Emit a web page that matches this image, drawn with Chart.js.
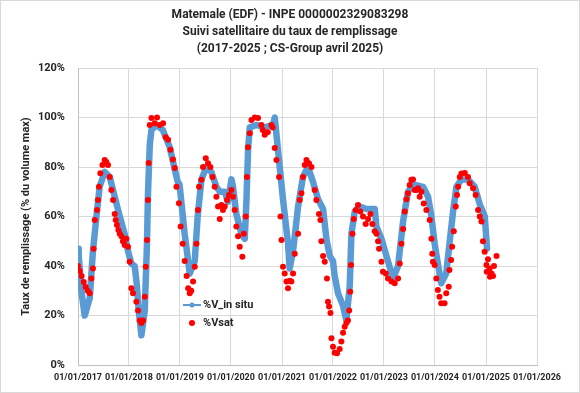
<!DOCTYPE html>
<html>
<head>
<meta charset="utf-8">
<script src="https://cdn.jsdelivr.net/npm/chart.js@4.4.1/dist/chart.umd.min.js"></script>
<style>
  html, body { margin: 0; padding: 0; background: #fff; }
  #graf { display: block; }
</style>
</head>
<body>
<canvas id="graf" width="580" height="393"></canvas>
<script>
// ------------------------------------ DATI ------------------------------------
const titolo = [
  'Matemale (EDF) - INPE 0000002329083298',
  'Suivi satellitaire du taux de remplissage',
  '(2017-2025 ; CS-Group avril 2025)'
];
const titoloAsseY = 'Taux de remplissage (% du volume max)';
const anniTick = [2017, 2018, 2019, 2020, 2021, 2022, 2023, 2024, 2025, 2026];
const percTick = [0, 20, 40, 60, 80, 100, 120];

// %V_in situ
const dateInSitu = [
  '2017-01-01','2017-01-06','2017-01-15','2017-01-25','2017-02-18','2017-03-26','2017-04-18','2017-05-13',
  '2017-06-05','2017-07-11','2017-08-16','2017-09-21','2017-10-27','2017-12-01','2017-12-25','2018-01-18',
  '2018-02-11','2018-02-25','2018-03-12','2018-03-31','2018-04-24','2018-05-10','2018-05-17','2018-05-30',
  '2018-06-11','2018-07-16','2018-08-31','2018-10-20','2018-11-25','2018-12-16','2018-12-29','2019-02-04',
  '2019-03-12','2019-04-17','2019-05-08','2019-06-04','2019-07-10','2019-08-14','2019-09-19','2019-10-13',
  '2019-11-18','2019-12-11','2020-01-05','2020-01-16','2020-02-09','2020-03-16','2020-04-09','2020-04-21',
  '2020-05-03','2020-05-15','2020-07-02','2020-08-30','2020-10-29','2020-11-10','2020-12-03','2021-01-08',
  '2021-02-13','2021-02-25','2021-03-21','2021-04-26','2021-05-31','2021-07-06','2021-08-11','2021-09-16',
  '2021-10-22','2021-11-15','2021-12-09','2022-01-01','2022-01-13','2022-02-06','2022-03-14','2022-04-07',
  '2022-05-01','2022-05-13','2022-06-06','2022-07-12','2022-08-29','2022-10-27','2022-11-08','2022-12-14',
  '2023-01-19','2023-03-07','2023-04-12','2023-05-18','2023-06-22','2023-07-28','2023-10-08','2023-11-13',
  '2023-12-07','2023-12-30','2024-01-22','2024-02-15','2024-03-22','2024-04-14','2024-05-10','2024-06-03',
  '2024-07-09','2024-08-25','2024-10-12','2024-11-17','2024-12-23','2025-01-08'
];
const valInSitu = [
  47, 44, 38, 30, 20, 27, 46, 60,
  72, 78, 76, 68, 60, 53, 46, 41,
  40, 33, 22, 12, 22, 49, 69, 89,
  95, 97, 95, 88, 79, 74, 73, 53,
  37, 42, 60, 75, 80, 78, 72, 70,
  70, 66, 75, 72, 61, 53, 51, 66,
  87, 96, 97, 96, 97, 100, 87, 67,
  49, 39, 46, 64, 76, 80, 74, 67,
  63, 51, 44, 42, 36, 29, 24, 18,
  32, 53, 62, 64, 63, 63, 56, 51,
  44, 35, 40, 58, 70, 73, 72, 68,
  60, 49, 41, 33, 37, 49, 62, 72,
  75, 75, 72, 65, 60, 47
];

// %Vsat
const dateSat = [
  '2017-01-01','2017-01-13','2017-01-27','2017-02-11','2017-02-25','2017-03-11','2017-03-26','2017-04-07',
  '2017-04-18','2017-04-23','2017-05-01','2017-05-17','2017-05-24','2017-05-31','2017-06-10','2017-06-25',
  '2017-07-11','2017-07-23','2017-08-04','2017-08-16','2017-08-28','2017-09-09','2017-09-21','2017-09-28',
  '2017-10-07','2017-10-17','2017-10-27','2017-11-08','2017-11-19','2017-12-01','2017-12-14','2017-12-25',
  '2018-01-06','2018-01-18','2018-01-30','2018-02-23','2018-03-07','2018-03-19','2018-03-31','2018-04-12',
  '2018-04-24','2018-05-01','2018-05-10','2018-05-17','2018-05-22','2018-05-30','2018-06-11','2018-07-04',
  '2018-07-21','2018-08-09','2018-09-02','2018-09-21','2018-10-08','2018-10-25','2018-11-12','2018-11-25',
  '2018-12-07','2018-12-25','2019-01-06','2019-01-21','2019-02-04','2019-02-18','2019-03-01','2019-03-12',
  '2019-03-23','2019-04-05','2019-04-17','2019-04-29','2019-05-10','2019-05-18','2019-06-04','2019-06-15',
  '2019-07-05','2019-07-21','2019-08-07','2019-08-22','2019-09-07','2019-09-19','2019-10-01','2019-10-13',
  '2019-10-25','2019-11-05','2019-11-18','2019-12-04','2019-12-18','2020-01-05','2020-01-16','2020-01-28',
  '2020-02-09','2020-02-21','2020-03-04','2020-03-23','2020-04-02','2020-04-16','2020-04-25','2020-05-02',
  '2020-05-15','2020-05-27','2020-06-20','2020-07-13','2020-08-06','2020-08-16','2020-08-30','2020-09-21',
  '2020-10-17','2020-10-26','2020-11-10','2020-11-22','2020-12-11','2020-12-21','2020-12-28','2021-01-08',
  '2021-01-20','2021-02-02','2021-02-13','2021-02-25','2021-03-09','2021-03-21','2021-04-02','2021-04-26',
  '2021-05-08','2021-05-20','2021-05-31','2021-06-13','2021-06-25','2021-07-13','2021-07-31','2021-08-23',
  '2021-09-04','2021-09-23','2021-10-03','2021-10-10','2021-10-22','2021-11-03','2021-11-19','2021-11-26',
  '2021-12-04','2021-12-14','2021-12-21','2022-01-01','2022-01-13','2022-01-30','2022-02-18','2022-03-02',
  '2022-03-14','2022-03-26','2022-04-07','2022-04-18','2022-04-27','2022-05-04','2022-05-10','2022-05-20',
  '2022-05-30','2022-06-13','2022-06-29','2022-07-16','2022-08-04','2022-08-23','2022-09-09','2022-09-26',
  '2022-10-10','2022-10-27','2022-11-08','2022-11-20','2022-11-27','2022-12-14','2022-12-25','2023-01-14',
  '2023-01-30','2023-02-24','2023-03-19','2023-04-12','2023-04-24','2023-05-06','2023-05-18','2023-05-30',
  '2023-06-11','2023-06-22','2023-07-04','2023-07-16','2023-07-28','2023-08-09','2023-08-21','2023-09-02',
  '2023-09-14','2023-09-26','2023-10-13','2023-11-01','2023-11-25','2023-12-07','2023-12-13','2023-12-18',
  '2023-12-30','2024-01-11','2024-01-22','2024-02-03','2024-02-15','2024-03-10','2024-03-22','2024-04-09',
  '2024-04-14','2024-04-26','2024-05-03','2024-05-15','2024-05-29','2024-06-07','2024-06-15','2024-06-27',
  '2024-07-09','2024-08-02','2024-08-25','2024-09-06','2024-09-30','2024-10-19','2024-11-05','2024-11-17',
  '2024-11-29','2024-12-10','2024-12-22','2025-01-04','2025-01-06','2025-01-15','2025-01-27','2025-01-29',
  '2025-02-09','2025-02-20','2025-02-27','2025-03-17'
];
const valSat = [
  40, 38, 36, 33.5, 31.5, 30, 29, 35,
  39, 47, 58.6, 62.6, 66.7, 72, 77.5, 80.8,
  82.8, 82, 80.8, 76, 70.7, 66.7, 61, 58.6,
  56.6, 54.5, 53, 52, 50, 48.5, 51, 47.8,
  41.7, 31, 29, 25.6, 22, 18, 17, 18,
  27.6, 39.7, 50.5, 66.7, 81.6, 97, 99.8, 97.7,
  100, 97, 97.7, 92, 91, 87, 83, 79.6,
  72, 65.4, 56, 49, 42, 36, 31, 29,
  30, 33.7, 39.7, 49, 62.6, 72, 74.8, 80,
  83.5, 81.5, 80, 76, 72, 68, 64, 59,
  64.6, 62.6, 64, 66.7, 68.7, 70.7, 68, 62.6,
  56, 52, 47.8, 43.7, 53, 60, 76, 88,
  93.6, 99, 100, 99.8, 97, 95, 93, 94,
  97, 96, 87.7, 82.8, 76, 60, 50.5, 39.7,
  37, 33.7, 31, 34, 33.7, 37, 45, 53,
  66.7, 69.4, 76, 80.8, 82.8, 81.5, 80, 70.7,
  66.7, 61, 58.6, 50, 44, 41.7, 35, 25.6,
  23.6, 21, 10.8, 7.4, 5, 4.7, 6.5, 9.5,
  13, 15.5, 17, 18, 22, 29.6, 40.4, 53,
  59, 62.6, 64.6, 62, 60, 57, 59, 61,
  57, 54, 53, 50, 47, 41.7, 37.7, 37,
  35, 33.7, 33, 35, 41, 49, 55, 62,
  67, 69.4, 72.7, 74.8, 75, 70.7, 70.7, 71.4,
  68, 70, 65.3, 62.6, 58.6, 51, 45, 41.7,
  40.4, 35, 30.3, 27.6, 25, 25, 29, 31.6,
  38.4, 42.4, 47.8, 54, 64, 68.7, 72, 76,
  77.4, 77.6, 76, 73.4, 71.4, 68.7, 62.6, 60,
  58, 50, 45.8, 40.4, 37.7, 42.7, 39, 35.7,
  37, 36, 40, 44
];
// ------------------------------------ DATI ------------------------------------

function giorno(s) {
  const p = s.split('-');
  return Date.UTC(+p[0], +p[1] - 1, +p[2]) / 864e5;
}
function etichettaData(v) {
  const d = new Date(Math.round(v) * 864e5);
  const gg = String(d.getUTCDate()).padStart(2, '0');
  const mm = String(d.getUTCMonth() + 1).padStart(2, '0');
  return gg + '/' + mm + '/' + d.getUTCFullYear();
}

const puntiInSitu = dateInSitu.map((d, i) => ({ x: giorno(d), y: valInSitu[i] }));
const puntiSat = dateSat.map((d, i) => ({ x: giorno(d), y: valSat[i] }));
const tickX = anniTick.map(a => giorno(a + '-01-01'));

// cornice + legenda dentro il grafico
const cornice = {
  id: 'cornice',
  beforeDraw(chart) {
    const ctx = chart.ctx;
    ctx.save();
    ctx.fillStyle = '#ffffff';
    ctx.fillRect(0, 0, chart.width, chart.height);
    ctx.strokeStyle = '#d9d9d9';
    ctx.lineWidth = 1;
    ctx.strokeRect(0.5, 0.5, chart.width - 1, chart.height - 1);
    ctx.restore();
  },
  afterDraw(chart) {
    const ctx = chart.ctx;
    const ds = chart.data.datasets;
    ctx.save();
    ctx.font = 'bold 11px Roboto';
    ctx.textBaseline = 'middle';
    // %V_in situ
    let y = 305;
    ctx.strokeStyle = ds[0].borderColor;
    ctx.lineWidth = 2;
    ctx.beginPath(); ctx.moveTo(183, y); ctx.lineTo(201, y); ctx.stroke();
    ctx.fillStyle = ds[0].borderColor;
    ctx.beginPath(); ctx.arc(192, y, 2.5, 0, Math.PI * 2); ctx.fill();
    ctx.fillStyle = '#262626';
    ctx.fillText(ds[0].label, 203, y);
    // %Vsat
    y = 323;
    ctx.fillStyle = ds[1].backgroundColor;
    ctx.beginPath(); ctx.arc(192, y, 3, 0, Math.PI * 2); ctx.fill();
    ctx.fillStyle = '#262626';
    ctx.fillText(ds[1].label, 203, y);
    ctx.restore();
  }
};

Chart.defaults.font.family = 'Roboto';
Chart.defaults.font.weight = 'bold';
Chart.defaults.color = '#262626';

new Chart(document.getElementById('graf').getContext('2d'), {
  type: 'line',
  data: {
    datasets: [{
      label: '%V_in situ',
      data: puntiInSitu,
      borderColor: '#5b9bd5',
      backgroundColor: '#5b9bd5',
      borderWidth: 6.5,
      borderJoinStyle: 'round',
      borderCapStyle: 'round',
      pointRadius: 0,
      tension: 0,
      order: 2
    }, {
      label: '%Vsat',
      data: puntiSat,
      showLine: false,
      borderColor: '#ff0000',
      backgroundColor: '#ff0000',
      pointRadius: 3,
      pointBorderWidth: 0,
      order: 1
    }]
  },
  options: {
    responsive: false,
    animation: false,
    layout: { padding: 0 },
    plugins: {
      legend: { display: false },
      tooltip: { enabled: false },
      title: {
        display: true,
        text: titolo,
        font: { size: 12, weight: 'bold', lineHeight: 17 / 12 },
        color: '#262626',
        padding: { top: 6.5, bottom: 10.5 }
      }
    },
    scales: {
      x: {
        type: 'linear',
        min: tickX[0],
        max: tickX[tickX.length - 1],
        afterBuildTicks: (scala) => { scala.ticks = tickX.map(v => ({ value: v })); },
        afterFit: (scala) => { scala.height = 28; },
        ticks: {
          callback: (v) => etichettaData(v),
          font: { size: 9, weight: 'bold' },
          maxRotation: 0,
          autoSkip: false,
          padding: 7
        },
        grid: { color: '#d9d9d9', drawTicks: false },
        border: { color: '#bfbfbf' }
      },
      y: {
        min: 0,
        max: 120,
        afterBuildTicks: (scala) => { scala.ticks = percTick.map(v => ({ value: v })); },
        afterFit: (scala) => { scala.width = 78; },
        ticks: {
          callback: (v) => v + '%',
          font: { size: 11, weight: 'bold' },
          padding: 13
        },
        grid: { color: '#d9d9d9', drawTicks: false },
        border: { color: '#bfbfbf' },
        title: {
          display: true,
          text: titoloAsseY,
          font: { size: 11, weight: 'bold' },
          padding: { top: 20, bottom: 0 }
        }
      },
      // asse vuoto a destra: solo spazio, cosi' il titolo resta centrato sulla pagina
      vuoto: {
        position: 'right',
        min: 0,
        max: 120,
        afterFit: (scala) => { scala.width = 43; },
        ticks: { display: false },
        grid: { display: false, drawTicks: false },
        border: { display: false }
      }
    }
  },
  plugins: [cornice]
});
</script>
</body>
</html>
